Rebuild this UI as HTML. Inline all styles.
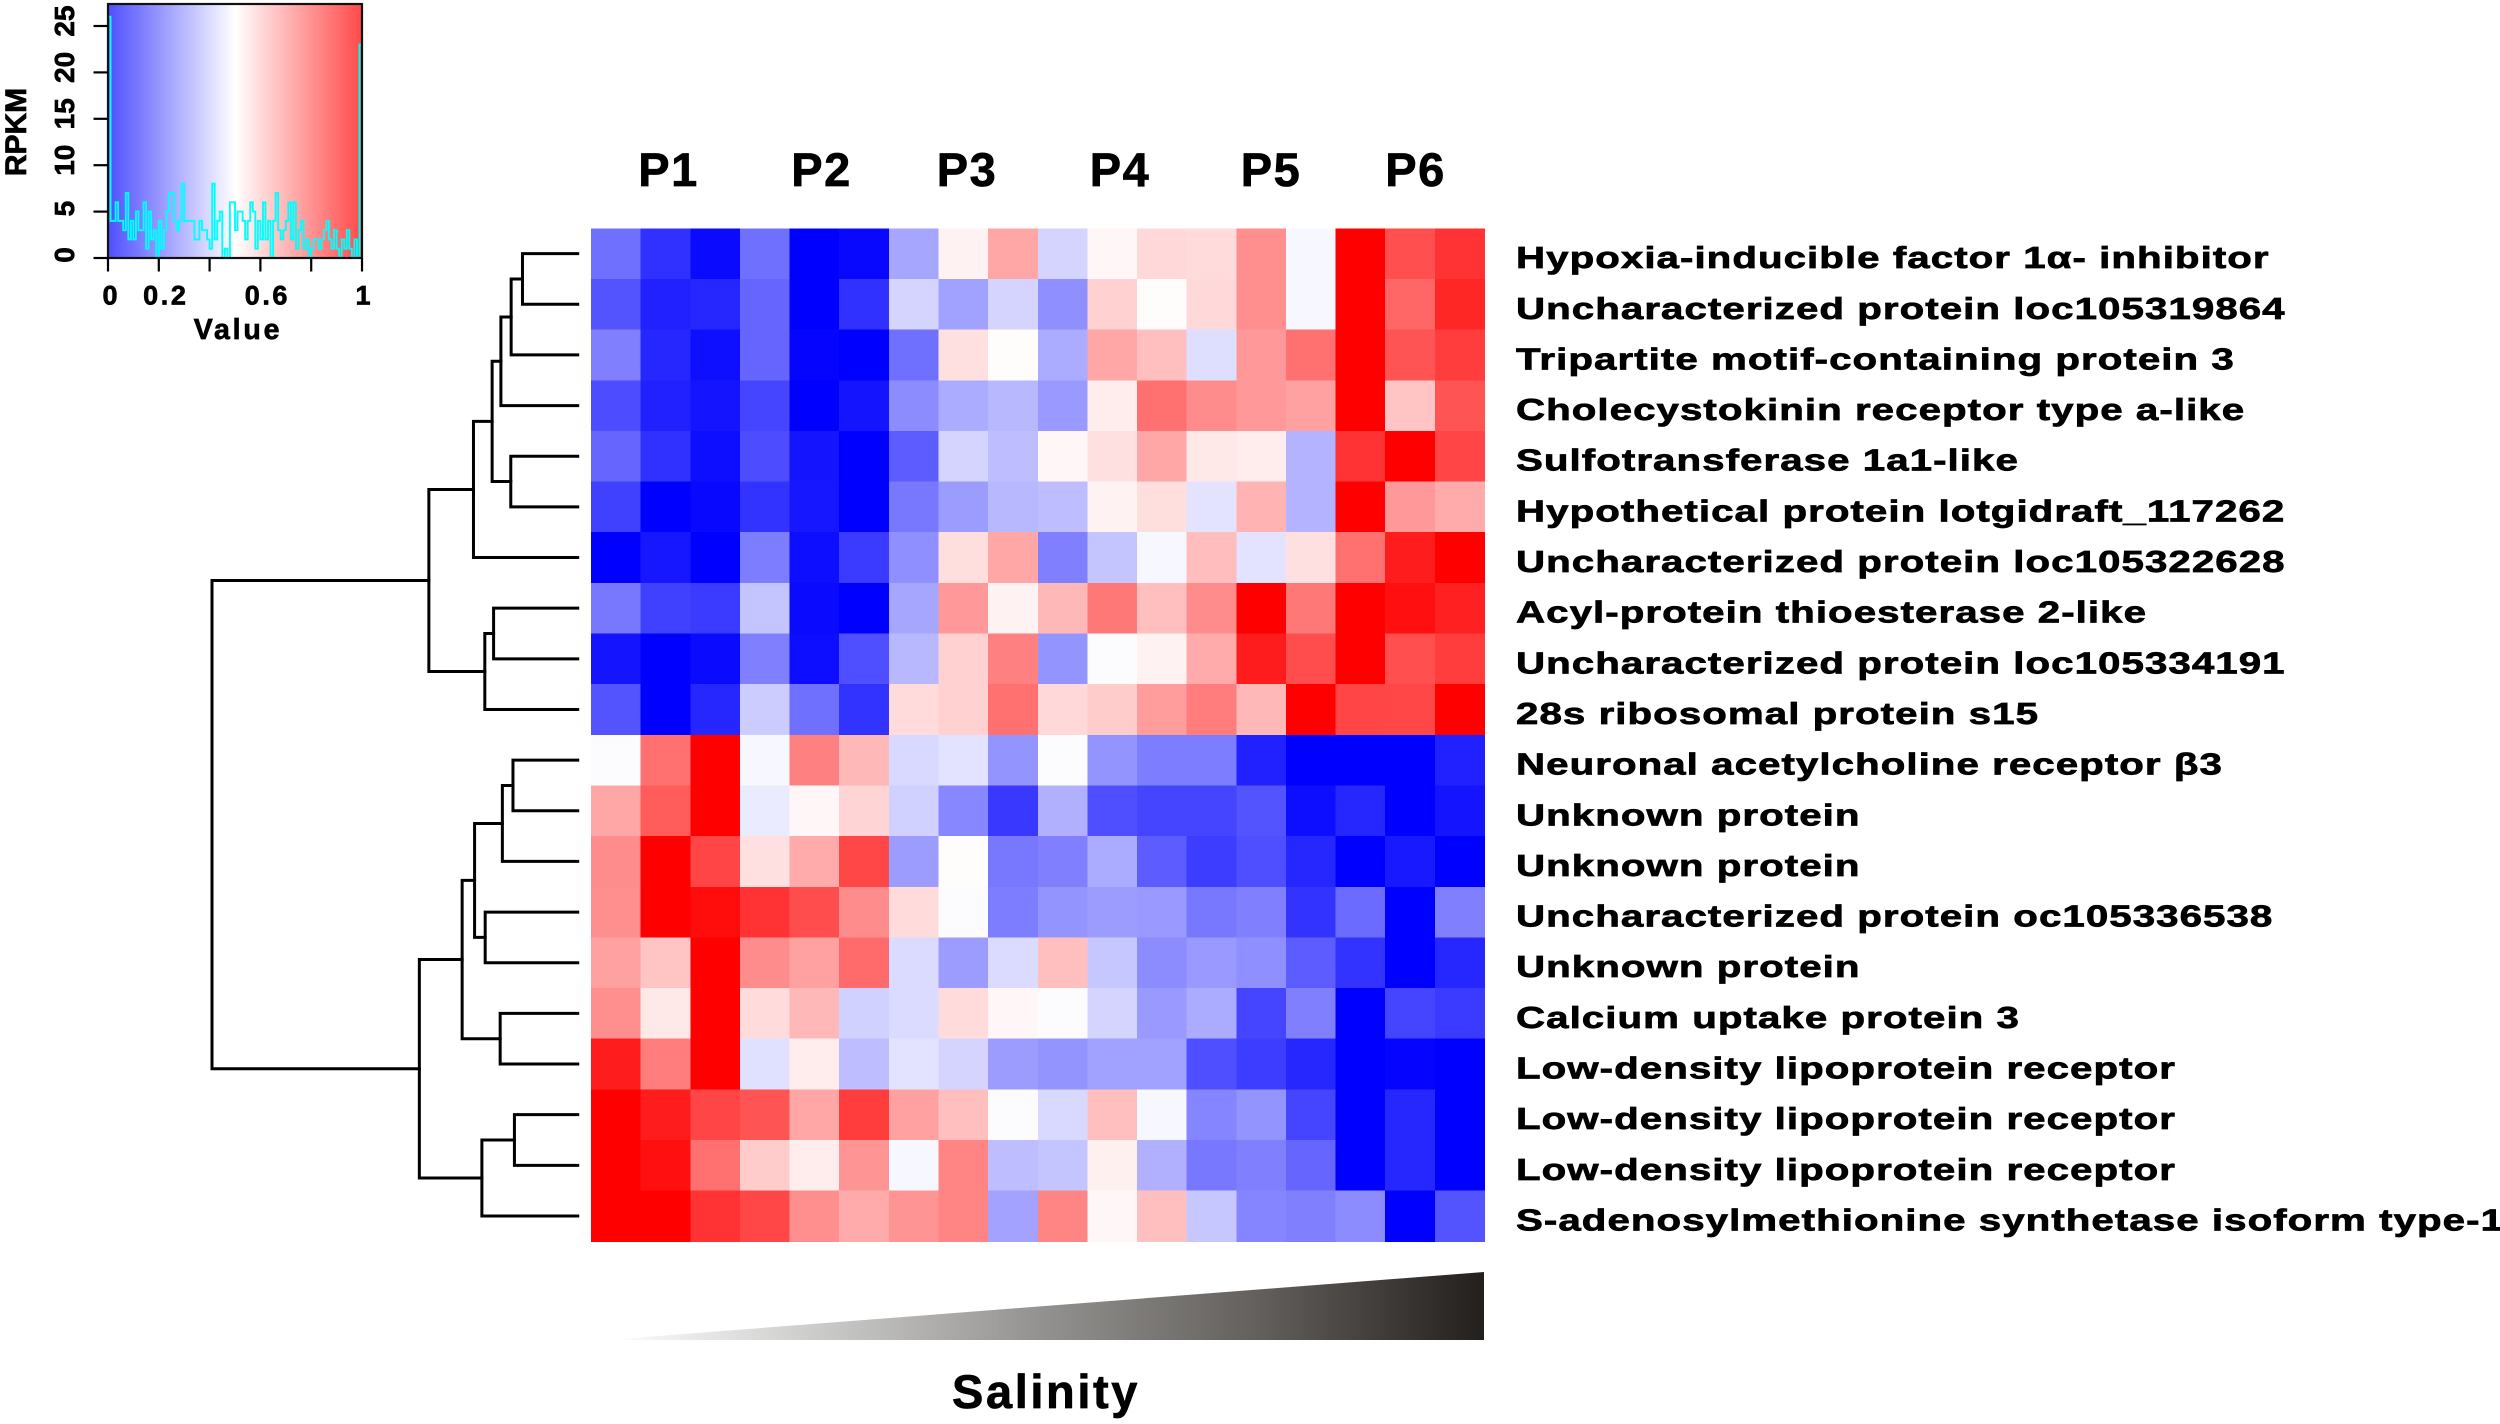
<!DOCTYPE html>
<html lang="en">
<head>
<meta charset="utf-8">
<title>Heatmap of gene expression across salinity stages</title>
<style>
html,body{margin:0;padding:0;background:#fff;}
body{width:2500px;height:1424px;overflow:hidden;position:relative;}
#chart{position:absolute;left:0;top:0;display:block;}
text{font-family:"Liberation Sans","DejaVu Sans",sans-serif;font-weight:700;fill:#000;stroke:#000;stroke-width:0.7px;}
</style>
</head>
<body>
<svg id="chart" xmlns="http://www.w3.org/2000/svg" width="2500" height="1424" viewBox="0 0 2500 1424">
  <defs>
    <linearGradient id="key-gradient" x1="0" x2="1" y1="0" y2="0">
      <stop offset="0" stop-color="#4f4fff"/>
      <stop offset="0.5" stop-color="#ffffff"/>
      <stop offset="1" stop-color="#ff4a4a"/>
    </linearGradient>
    <linearGradient id="wedge-gradient" x1="0" x2="1" y1="0" y2="0">
      <stop offset="0" stop-color="#ffffff"/>
      <stop offset="0.25" stop-color="#c9c9c8"/>
      <stop offset="0.5" stop-color="#93918f"/>
      <stop offset="0.75" stop-color="#615e5b"/>
      <stop offset="1" stop-color="#231f1c"/>
    </linearGradient>
  </defs>

  <g id="color-key">
    <rect x="108" y="4" width="254" height="254" fill="url(#key-gradient)"/>
    <g id="key-hist"></g>
    <rect x="108" y="4" width="254" height="254" fill="none" stroke="#111" stroke-width="2.2"/>
    <g id="key-axes"></g>
    <text transform="translate(26,132) rotate(-90)" text-anchor="middle" font-size="30">RPKM</text>
    <text x="238" y="339" text-anchor="middle" font-size="28.5" letter-spacing="2.8">Value</text>
  </g>

  <g id="dendrogram" fill="none" stroke="#000" stroke-width="3" stroke-linecap="square"></g>
  <g id="heatmap" shape-rendering="crispEdges"></g>
  <g id="row-labels"></g>

  <g font-size="47" text-anchor="middle">
    <text x="668.5" y="186" text-anchor="middle" font-size="47" letter-spacing="1.5">P1</text>
    <text x="821.5" y="186" text-anchor="middle" font-size="47" letter-spacing="1.5">P2</text>
    <text x="967" y="186" text-anchor="middle" font-size="47" letter-spacing="1.5">P3</text>
    <text x="1120" y="186" text-anchor="middle" font-size="47" letter-spacing="1.5">P4</text>
    <text x="1271" y="186" text-anchor="middle" font-size="47" letter-spacing="1.5">P5</text>
    <text x="1415.5" y="186" text-anchor="middle" font-size="47" letter-spacing="1.5">P6</text>
  </g>

  <polygon points="606,1340 1484,1272 1484,1340" fill="url(#wedge-gradient)"/>
  <text x="1046" y="1408" text-anchor="middle" font-size="47" letter-spacing="2.6">Salinity</text>
</svg>

<script>
const rowLabels = [
  "Hypoxia-inducible factor 1α- inhibitor",
  "Uncharacterized protein loc105319864",
  "Tripartite motif-containing protein 3",
  "Cholecystokinin receptor type a-like",
  "Sulfotransferase 1a1-like",
  "Hypothetical protein lotgidraft_117262",
  "Uncharacterized protein loc105322628",
  "Acyl-protein thioesterase 2-like",
  "Uncharacterized protein loc105334191",
  "28s ribosomal protein s15",
  "Neuronal acetylcholine receptor β3",
  "Unknown protein",
  "Unknown protein",
  "Uncharacterized protein oc105336538",
  "Unknown protein",
  "Calcium uptake protein 3",
  "Low-density lipoprotein receptor",
  "Low-density lipoprotein receptor",
  "Low-density lipoprotein receptor",
  "S-adenosylmethionine synthetase isoform type-1"
];

/* scaled expression, -100 (blue) .. 0 (white) .. 100 (red) */
const heatmapValues = [
  [-56,-81,-96,-56,-100,-97,-35,5,35,-17,3,15,14,44,-3,100,69,80],
  [-67,-87,-85,-60,-100,-81,-17,-37,-17,-44,18,1,15,44,-3,100,60,85],
  [-50,-85,-94,-60,-98,-100,-56,12,1,-33,35,25,-13,40,56,100,67,76],
  [-70,-87,-92,-73,-100,-92,-45,-33,-28,-40,7,56,45,40,37,100,23,67],
  [-60,-81,-95,-70,-92,-100,-64,-17,-26,3,12,35,9,7,-30,80,100,73],
  [-75,-100,-97,-80,-91,-100,-53,-39,-28,-26,5,13,-11,30,-30,100,40,33],
  [-100,-91,-100,-51,-95,-77,-44,13,35,-50,-23,-3,26,-11,12,56,89,100],
  [-53,-75,-77,-23,-96,-100,-35,40,5,28,53,25,45,100,53,100,94,87],
  [-92,-100,-96,-50,-95,-69,-28,18,50,-42,-1,5,33,89,70,100,69,76],
  [-67,-100,-85,-20,-56,-80,14,18,56,15,20,39,51,28,100,73,72,100],
  [-1,56,100,-3,50,28,-15,-11,-42,-1,-42,-51,-51,-87,-100,-100,-100,-87],
  [35,64,100,-8,3,17,-18,-47,-78,-31,-69,-73,-73,-67,-95,-85,-100,-92],
  [45,100,73,12,33,72,-39,1,-53,-50,-33,-64,-76,-69,-85,-100,-90,-100],
  [44,100,95,80,70,45,14,-1,-51,-42,-39,-40,-53,-50,-80,-58,-100,-50],
  [37,23,100,45,37,58,-14,-39,-14,25,-22,-45,-40,-44,-64,-80,-100,-85],
  [44,9,100,14,28,-18,-14,14,3,-1,-17,-40,-33,-73,-50,-100,-73,-77],
  [89,51,100,-12,7,-26,-11,-17,-39,-42,-37,-37,-69,-76,-85,-100,-98,-100],
  [100,89,73,67,35,76,37,25,-1,-15,25,-3,-48,-42,-73,-100,-85,-100],
  [100,94,56,20,7,42,-3,48,-26,-23,6,-31,-53,-50,-60,-100,-85,-100],
  [100,100,80,72,44,33,42,48,-36,48,3,25,-22,-48,-50,-45,-100,-67]
];

/* hclust-style merges: negative = leaf row (1-based), positive = earlier merge (1-based) */
const dendroLeft = [-1,1,2,-5,3,5,-8,7,6,-11,10,-14,11,-16,13,-18,16,15,9];
const dendroRight = [-2,-3,-4,-6,4,-7,-9,-10,8,-12,-13,-15,12,-17,14,-19,-20,17,18];
const dendroHeights = [15.1,18.2,21.0,18.3,23.4,28.5,23.0,25.4,40.7,17.7,20.6,25.3,28.2,21.2,31.6,17.3,26.2,43.3,100];

/* colour-key histogram: 100 equal bins across 0..1 */
const histCounts = [
  26,4,4,6,4,4,3,7,2,4,
  2,5,3,3,6,1,5,2,3,0,
  4,1,3,5,7,7,4,3,4,8,
  4,4,4,4,2,2,4,3,3,2,
  1,8,2,4,5,0,1,0,6,6,
  3,5,5,4,2,4,6,5,1,4,
  2,6,2,4,0,4,7,3,2,3,
  4,6,2,6,1,3,4,1,2,0,
  1,2,2,1,2,3,4,2,1,3,
  1,0,2,1,3,1,0,2,0,23
];
const keyXTicks = [0,0.2,0.4,0.6,0.8,1];
const keyXLabels = ["0","0.2","","0.6","","1"];
const keyYTicks = [0,5,10,15,20,25];

const SVG_NS = "http://www.w3.org/2000/svg";

/* heatmap axes */
const gridLeft = 591, gridRight = 1484.5, gridTop = 228.3, gridBottom = 1241.3;
const colCount = heatmapValues[0].length;
const rowCount = heatmapValues.length;
function colX(c){ return gridLeft + (gridRight - gridLeft) * c / colCount; }
function rowY(r){ return gridTop + (gridBottom - gridTop) * r / rowCount; }
function rowCenter(r){ return rowY(r + 0.5); }
function valueColor(v){
  const t = Math.max(0, Math.min(1, 1 - Math.abs(v) / 100));
  const c = Math.round(255 * t);
  return v >= 0 ? "rgb(255," + c + "," + c + ")" : "rgb(" + c + "," + c + ",255)";
}

/* dendrogram axis */
const leafX = 577.7, rootX = 212;
function distX(h){ return leafX - (leafX - rootX) * h / 100; }

/* colour key axes */
const keyLeft = 108, keyRight = 362, keyBottom = 258, keyUnit = 9.28;
function keyX(v){ return keyLeft + (keyRight - keyLeft) * v; }
function keyY(n){ return keyBottom - keyUnit * n; }

/* draw heatmap */
const heatGroup = document.getElementById("heatmap");
heatmapValues.forEach(function(row, r){
  row.forEach(function(v, c){
    const el = document.createElementNS(SVG_NS, "rect");
    
    
    el.setAttribute("x", colX(c));
    el.setAttribute("y", rowY(r));
    el.setAttribute("width", colX(c + 1) - colX(c) + 0.5);
    el.setAttribute("height", rowY(r + 1) - rowY(r) + 0.5);
    el.setAttribute("fill", valueColor(v));
    heatGroup.appendChild(el);
  });
});

/* draw row labels */
const labelGroup = document.getElementById("row-labels");
rowLabels.forEach(function(label, r){
  const el = document.createElementNS(SVG_NS, "text");
  
  
  el.setAttribute("transform", "translate(1516," + (rowCenter(r) + 14.5) + ") scale(1.3,1)");
  el.setAttribute("font-size", "31");
  el.setAttribute("letter-spacing", "0.8");
  el.textContent = label;
  labelGroup.appendChild(el);
});

/* draw dendrogram */
const dendroGroup = document.getElementById("dendrogram");
const nodeX = [];
const nodeY = [];
function childPos(id){
  if (id < 0) return { x: distX(0), y: rowCenter(-id - 1) };
  return { x: nodeX[id - 1], y: nodeY[id - 1] };
}
dendroHeights.forEach(function(h, i){
  const a = childPos(dendroLeft[i]);
  const b = childPos(dendroRight[i]);
  const x = distX(h);
  nodeX[i] = x;
  nodeY[i] = (a.y + b.y) / 2;
  const el = document.createElementNS(SVG_NS, "path");
  
  
  el.setAttribute("d", "M" + a.x + " " + a.y + "H" + x + "V" + b.y + "H" + b.x);
  dendroGroup.appendChild(el);
});

/* draw histogram */
const histGroup = document.getElementById("key-hist");
let histPath = "";
histCounts.forEach(function(n, i){
  const x0 = keyX(i / histCounts.length);
  const x1 = keyX((i + 1) / histCounts.length);
  histPath += (i === 0 ? "M" : "L") + x0 + " " + keyY(n) + "L" + x1 + " " + keyY(n);
});
const histLine = document.createElementNS(SVG_NS, "path");


histLine.setAttribute("d", histPath);
histLine.setAttribute("fill", "none");
histLine.setAttribute("stroke", "#00ffff");
histLine.setAttribute("stroke-width", "1.9");
histGroup.appendChild(histLine);

/* draw key axes */
const axesGroup = document.getElementById("key-axes");
function addTick(x1, y1, x2, y2){
  const el = document.createElementNS(SVG_NS, "line");
  
  
  el.setAttribute("x1", x1);
  el.setAttribute("y1", y1);
  el.setAttribute("x2", x2);
  el.setAttribute("y2", y2);
  el.setAttribute("stroke", "#000");
  el.setAttribute("stroke-width", "2.2");
  axesGroup.appendChild(el);
}
keyXTicks.forEach(function(v, i){
  addTick(keyX(v), keyBottom, keyX(v), keyBottom + 13.5);
  if (keyXLabels[i]) {
    const el = document.createElementNS(SVG_NS, "text");
    
    
    el.setAttribute("x", keyX(v) + (keyXLabels[i].length > 1 ? 7 : (v === 0 ? 2 : 1)));
    el.setAttribute("y", "304.5");
    el.setAttribute("text-anchor", "middle");
    el.setAttribute("font-size", "27");
    el.setAttribute("letter-spacing", keyXLabels[i].length > 1 ? "2.6" : "0");
    el.textContent = keyXLabels[i];
    axesGroup.appendChild(el);
  }
});
keyYTicks.forEach(function(n){
  addTick(keyLeft, keyY(n), keyLeft - 14.5, keyY(n));
  const el = document.createElementNS(SVG_NS, "text");
  
  
  const shift = n >= 10 ? 5 : 3;
  el.setAttribute("transform", "translate(74," + (keyY(n) - shift) + ") rotate(-90)");
  el.setAttribute("text-anchor", "middle");
  el.setAttribute("font-size", "28");
  el.textContent = String(n);
  axesGroup.appendChild(el);
});
</script>
</body>
</html>
